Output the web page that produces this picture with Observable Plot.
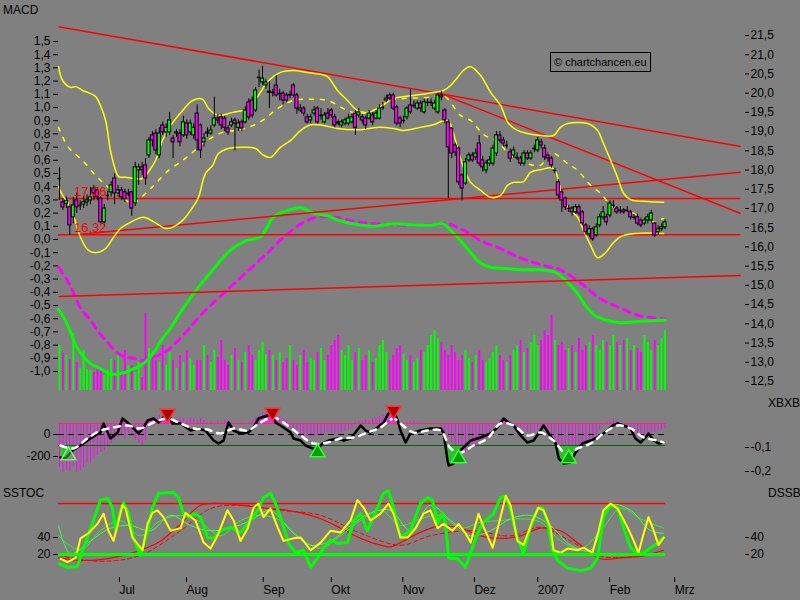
<!DOCTYPE html>
<html><head><meta charset="utf-8">
<script src="https://cdn.jsdelivr.net/npm/d3@7"></script>
<script src="https://cdn.jsdelivr.net/npm/@observablehq/plot@0.6"></script>
<style>
html,body{margin:0;padding:0;background:#808080;}
#chart{position:relative;width:800px;height:600px;background:#808080;overflow:hidden;font-family:Arial,"Liberation Sans",sans-serif;}
#chart > svg{position:absolute;left:0;top:0;}
.ttl{position:absolute;font-size:12px;color:#000;line-height:12px;}
.wm{position:absolute;left:550px;top:52px;height:18px;padding:0 3px;border:1px solid #000;font-size:11px;line-height:18px;color:#000;white-space:nowrap;}
</style></head><body><div id="chart"></div>
<script>
// ---------- candles (bar index 0..176) ----------
const candleOpen = [17.78,17.16,17.12,17.03,16.77,17.21,17.08,17.1,17.16,17.21,
17.52,17.47,17.26,16.64,17.34,17.42,17.78,17.39,17.47,17.42,
17.39,17.42,17.13,17.99,18.07,18.12,18.38,18.9,18.95,18.38,
19.16,18.98,18.98,18.82,18.95,18.95,18.9,19.21,18.98,18.9,
19.47,19.16,18.72,18.98,18.95,19.16,19.34,19.37,19.34,19.08,
19.16,19.29,19.1,19.24,19.24,19.76,19.81,19.55,20.41,20.28,
20.2,20.04,20.02,20.2,19.99,19.99,19.94,19.96,20.2,19.94,
19.55,19.6,19.37,19.29,19.47,19.6,19.42,19.24,19.47,19.55,
19.37,19.24,19.16,19.21,19.21,19.24,19.47,19.42,19.37,19.34,
19.34,19.42,19.34,19.34,19.63,19.81,19.94,19.94,19.63,19.34,
19.29,19.37,19.68,19.68,19.6,19.73,19.5,19.76,19.76,19.6,
19.5,19.94,19.55,19.24,19.08,18.64,18.56,17.86,17.65,18.25,
18.38,18.33,18.69,18.25,17.99,18.17,18.17,18.43,18.9,18.77,
18.64,18.46,18.38,18.33,18.3,18.17,18.43,18.3,18.56,18.51,
18.72,18.56,18.38,18.3,17.99,17.68,17.42,17.26,17.0,17.0,
16.9,17.03,16.9,16.56,16.33,16.46,16.3,16.56,16.77,16.77,
16.82,17.08,17.0,16.95,16.95,16.95,16.9,16.77,16.77,16.69,
16.61,16.69,16.69,16.61,16.38,16.46,16.51];
const candleClose = [17.78,17.03,17.2,16.56,17.08,17.03,17.08,17.16,17.21,17.29,
17.39,17.29,16.64,17.0,17.34,17.6,17.39,17.47,17.29,17.24,
17.39,17.0,18.07,18.07,18.0,17.78,18.77,18.77,18.51,18.95,
18.98,19.1,19.29,18.72,18.98,18.72,19.24,18.9,19.21,19.1,
18.77,18.51,18.82,18.95,19.03,19.34,19.29,19.16,19.1,18.98,
19.24,19.21,19.21,19.08,19.55,19.37,19.42,20.07,20.41,20.38,
20.28,20.01,20.02,19.94,19.99,19.81,19.81,19.96,19.94,19.6,
19.6,19.47,19.24,19.37,19.55,19.24,19.42,19.42,19.34,19.42,
19.16,19.21,19.24,19.29,19.34,19.37,19.1,19.5,19.29,19.16,
19.47,19.24,19.47,19.6,19.63,19.86,19.86,19.6,19.21,19.21,
19.29,19.6,19.5,19.68,19.73,19.6,19.76,19.76,19.76,19.73,
19.94,19.89,19.29,18.59,18.43,18.46,17.68,17.52,18.2,18.38,
18.25,18.43,18.17,18.07,18.17,18.25,18.56,18.9,18.77,18.69,
18.64,18.3,18.51,18.33,18.17,18.43,18.3,18.43,18.56,18.77,
18.64,18.33,18.3,18.12,17.99,17.34,17.21,17.03,17.0,16.9,
17.03,16.87,16.61,16.38,16.46,16.2,16.51,16.77,16.9,16.64,
17.13,17.08,16.9,16.95,16.9,16.95,16.77,16.77,16.61,16.56,
16.69,16.77,16.87,16.3,16.46,16.51,16.64];
const candleHigh = [18.07,17.25,17.3,17.1,17.29,17.4,17.2,17.3,17.35,17.55,
17.6,17.55,17.3,17.1,17.45,17.7,17.9,17.6,17.55,17.5,
17.5,17.45,18.2,18.15,18.2,18.3,18.85,19.0,19.05,19.1,
19.25,19.2,19.5,18.9,19.05,19.05,19.4,19.3,19.3,19.2,
19.7,19.2,18.95,19.1,19.15,19.9,19.45,19.45,19.4,19.15,
19.35,19.35,19.3,19.3,19.65,19.85,19.9,20.15,20.6,20.7,
20.35,20.3,20.1,20.45,20.1,20.05,20.0,20.05,20.25,20.0,
19.7,19.65,19.45,19.45,19.65,19.65,19.6,19.5,19.6,19.6,
19.45,19.3,19.3,19.35,19.45,19.45,19.55,19.6,19.45,19.4,
19.55,19.5,19.55,19.7,19.75,19.95,20.0,20.0,19.68,19.4,
19.4,19.65,20.1,19.8,19.8,19.8,19.85,19.85,19.85,19.8,
20.0,20.05,19.6,19.3,19.1,18.7,18.6,17.9,18.3,18.45,
18.45,18.55,18.9,18.35,18.25,18.35,18.65,19.0,19.0,18.85,
18.75,18.55,18.6,18.45,18.35,18.5,18.5,18.5,18.65,18.85,
18.8,18.65,18.45,18.35,18.05,17.75,17.5,17.3,17.08,17.05,
17.1,17.1,16.95,16.6,16.55,16.5,16.6,16.85,17.05,16.85,
17.2,17.2,17.05,17.05,17.0,17.05,16.95,16.85,16.85,16.75,
16.75,16.85,16.95,16.65,16.55,16.6,16.7];
const candleLow = [17.21,16.95,17.0,16.3,16.6,16.87,16.95,17.0,17.05,17.1,
17.2,17.2,16.6,16.55,17.2,17.3,17.1,17.3,17.2,17.15,
17.3,16.8,17.05,17.6,17.85,17.6,18.3,18.6,18.4,18.3,
18.9,18.85,18.9,18.3,18.85,18.6,18.85,18.8,18.9,18.8,
18.5,18.3,18.6,18.85,18.9,19.1,19.2,19.05,19.0,18.9,
19.1,18.5,19.0,19.0,19.2,19.3,19.35,19.5,20.15,20.2,
20.1,19.6,19.9,19.9,19.8,19.7,19.75,19.85,19.9,19.45,
19.5,19.4,19.2,19.2,19.4,19.2,19.3,19.2,19.3,19.35,
19.1,19.15,19.1,19.15,19.15,19.2,18.9,19.35,19.2,19.05,
19.3,19.15,19.3,19.3,19.55,19.75,19.8,19.55,19.15,19.1,
19.2,19.3,19.45,19.6,19.55,19.5,19.45,19.65,19.65,19.55,
19.45,19.8,19.2,17.26,18.3,18.35,17.6,17.2,17.6,18.2,
18.2,18.25,18.1,17.95,17.9,18.1,18.1,18.35,18.7,18.6,
18.55,18.2,18.3,18.25,18.1,18.1,18.25,18.25,18.45,18.45,
18.55,18.25,18.2,18.05,17.9,17.25,16.9,16.95,16.9,16.8,
16.85,16.8,16.55,16.3,16.25,16.15,16.25,16.5,16.7,16.55,
16.75,17.0,16.85,16.85,16.85,16.9,16.7,16.7,16.55,16.5,
16.55,16.6,16.6,16.25,16.3,16.4,16.45];
const volume = [45,37,35,31,57,28,22,40,21,20,
18,22,20,15,20,31,30,35,17,40,
25,25,18,28,13,77,42,35,30,28,
45,25,38,30,22,35,28,40,32,25,
30,30,45,35,28,40,33,50,30,25,
35,42,30,28,38,45,35,30,40,48,
36,40,35,30,38,28,32,45,30,25,
35,40,28,32,30,38,42,30,35,45,
50,55,40,35,45,30,38,42,30,35,
40,28,32,45,50,38,30,35,42,45,
36,30,35,28,32,40,38,45,55,60,
52,48,40,35,45,38,30,35,40,32,
28,35,40,30,28,32,38,45,35,30,
28,35,40,45,50,38,42,48,55,45,
50,60,55,75,50,45,48,40,42,45,
38,52,40,45,48,55,45,40,50,48,
45,55,48,45,50,52,40,45,42,38,
55,48,40,50,45,52,60];

// ---------- Bollinger bands: [bar index, price] ----------
const bbUpper = [[-0.3,20.69],[0.9,20.33],[3.2,20.15],[4.7,20.17],[6.7,20.07],[9,19.99],[10.5,19.91],[11.9,19.68],[13.4,19.29],[14.8,18.51],[16.3,17.99],[17.2,17.83],[19.2,17.81],[22.1,17.78],[24.1,17.78],[26.5,18.04],[27.9,18.25],[29.9,18.77],[32.3,19.16],[35.8,19.55],[38.7,19.81],[41.6,19.84],[43.3,19.6],[46.2,19.42],[50.3,19.5],[54.9,19.6],[57.8,19.94],[60.8,20.33],[64.2,20.54],[68,20.59],[72.1,20.54],[75.9,20.49],[77.9,20.43],[80.8,20.07],[83.7,19.81],[86.6,19.55],[89.5,19.5],[92.4,19.6],[97.1,19.86],[102.9,19.94],[108.7,20.02],[111.6,20.07],[113.7,20.2],[115.7,20.41],[117.4,20.59],[119.5,20.69],[122.4,20.46],[125.3,20.02],[128.2,19.68],[130.5,19.21],[133.1,19.03],[136,18.95],[139.8,18.9],[143.6,18.9],[145.6,19.11],[147.7,19.21],[153.5,19.21],[156.4,19.03],[158.1,18.69],[160.2,18.25],[162.2,17.81],[164,17.39],[166,17.23],[170.9,17.18],[175.6,17.16]];
const bbLower = [[-0.3,17.57],[0.9,17.34],[3.2,17.03],[6.1,16.25],[8.4,15.91],[10.5,15.85],[13.4,15.96],[15.7,16.25],[17.7,16.48],[20.6,16.64],[24.4,16.77],[27.3,16.66],[30.8,16.48],[32.8,16.51],[35.8,16.69],[38.7,17.03],[40.4,17.29],[42.4,17.91],[44.5,18.12],[46.2,18.43],[49.1,18.56],[53.2,18.59],[57,18.56],[59,18.4],[61.3,18.33],[64.2,18.59],[67.2,18.77],[70.1,19.03],[73,19.18],[76.7,19.16],[80.8,19.08],[87.5,19.05],[92.4,19.11],[97.1,19.08],[100,19.03],[104.9,19.11],[108.7,19.18],[112.8,19.29],[115.1,18.77],[117.2,18.12],[119.5,17.68],[122.4,17.47],[125.3,17.29],[128.2,17.34],[130.2,17.6],[132,17.68],[134.9,17.7],[136.9,17.94],[139.8,18.01],[143.6,18.04],[145.6,17.52],[147.7,17.03],[150.6,16.77],[152.3,16.43],[154.4,16.04],[156.4,15.72],[158.7,15.85],[160.8,16.09],[163.1,16.27],[167.4,16.35],[175.6,16.35]];
const bbMiddle = [[-0.3,19.11],[2.6,18.59],[6.7,18.25],[10.5,17.86],[14.2,17.55],[18.3,17.29],[21.2,17.13],[25,17.39],[27.9,17.65],[31.7,17.99],[35.8,18.25],[38.7,18.46],[41.6,18.69],[47.4,18.98],[51.2,19.03],[54.9,19.11],[59,19.29],[63.4,19.6],[68,19.81],[73,19.84],[77.9,19.81],[83.7,19.55],[87.5,19.47],[92.4,19.6],[96.2,19.81],[100,19.86],[107.8,19.89],[111.6,19.94],[116.6,19.42],[119.5,19.29],[123.3,18.92],[127.3,18.74],[131.1,18.38],[136,18.17],[139.8,18.12],[142.7,18.46],[147.7,18.17],[150.6,17.99],[154.4,17.6],[157.3,17.39],[161,17.03],[166.9,16.87],[170.9,16.64],[175.6,16.74]];

// ---------- trend lines and levels ----------
const trendStartIdx = [-0.3, 109.9, 4.7, -0.3];
const trendStartPrice = [21.73, 20.02, 16.32, 14.71];
const trendEndIdx = [198, 198, 198, 198];
const trendEndPrice = [18.61, 16.87, 17.94, 15.26];
const levelPrices = [17.26, 16.32];
const levelLabels = ["17,26", "16,32"];

// ---------- MACD: [bar index, value] ----------
const macdLine = [[-0.3,-0.53],[1.2,-0.59],[3.2,-0.7],[4.7,-0.8],[6.7,-0.88],[9,-0.94],[11.9,-0.98],[14.8,-1.02],[16.3,-1.02],[18.6,-1.01],[21.5,-0.98],[24.4,-0.94],[27.3,-0.86],[29.4,-0.77],[32.3,-0.67],[35.2,-0.55],[38.1,-0.44],[41,-0.34],[43.9,-0.25],[46.8,-0.16],[49.7,-0.08],[54.1,-0.01],[58.4,0.02],[62.2,0.17],[66.3,0.22],[70.1,0.24],[73.8,0.2],[77.9,0.18],[81.7,0.14],[87.5,0.11],[91.3,0.1],[97.1,0.12],[102.9,0.11],[108.7,0.11],[111.3,0.12],[113.7,0.07],[116.6,-0.01],[119.5,-0.1],[122.4,-0.18],[125.3,-0.21],[129.7,-0.22],[134,-0.23],[139.8,-0.23],[144.2,-0.25],[147.1,-0.31],[150,-0.39],[152.9,-0.5],[155.8,-0.58],[158.7,-0.61],[163.1,-0.63],[168.9,-0.62],[176.2,-0.61]];
const macdSignal = [[-0.3,-0.21],[2.3,-0.31],[3.8,-0.39],[6.1,-0.52],[9,-0.61],[11,-0.69],[14,-0.78],[16.9,-0.86],[19.2,-0.89],[21.5,-0.9],[23.5,-0.92],[25.6,-0.9],[28.5,-0.88],[31.4,-0.84],[34.3,-0.77],[37.2,-0.69],[40.1,-0.6],[43.9,-0.5],[49.7,-0.36],[55.5,-0.22],[61.3,-0.08],[65.7,0.03],[70.9,0.13],[75,0.17],[79.7,0.17],[87.5,0.13],[99.1,0.11],[107,0.11],[112.8,0.12],[116.6,0.08],[118.9,0.05],[122.4,-0.01],[128.2,-0.07],[134,-0.14],[139.8,-0.19],[145.6,-0.23],[151.5,-0.33],[157.3,-0.45],[163.1,-0.52],[168.9,-0.58],[176.2,-0.6]];
const macdTicks = [1.5,1.4,1.3,1.2,1.1,1.0,0.9,0.8,0.7,0.6,0.5,0.4,0.3,0.2,0.1,0.0,-0.1,-0.2,-0.3,-0.4,-0.5,-0.6,-0.7,-0.8,-0.9,-1.0];
const priceTicks = [21.5,21.0,20.5,20.0,19.5,19.0,18.5,18.0,17.5,17.0,16.5,16.0,15.5,15.0,14.5,14.0,13.5,13.0,12.5];

// ---------- XBXB panel ----------
const xbHist = [-300,-345,-327,-336,-291,-345,-327,-300,-255,
-264,-218,-191,-164,-145,-118,-82,-55,
-27,0,-36,9,-18,-55,-82,-100,-55,
127,145,155,173,191,173,155,145,
140,155,145,130,150,140,120,145,130,110,115,105,120,110,130,
120,110,95,90,105,100,110,120,
150,165,185,190,200,195,175,160,145,125,
60,40,20,0,-10,-20,-30,-20,-10,0,10,20,10,0,10,20,30,40,50,
110,115,120,130,125,140,150,160,175,190,200,190,150,
110,105,110,115,120,110,105,100,100,100,100,100,
50,20,-30,-80,-120,-150,-170,-160,-140,-120,-100,-80,-60,-40,-20,
60,100,130,150,140,110,90,70,
60,40,20,10,20,40,60,80,
30,-20,-60,-100,-130,-150,-160,-150,-140,-120,-100,-80,-60,-40,-20,
40,80,110,120,130,120,
90,70,50,30,20,10,0,0,10,20,20,30,40,50];
const xbBlack = [[0.3,-209],[1.7,-218],[3.8,-145],[6.1,-100],[9,-36],[11.9,18],[12.8,100],[14.8,-36],[16.9,18],[18.3,145],[20.1,100],[21.5,55],[23,9],[24.4,64],[25.6,127],[27.3,145],[28.8,109],[30.2,155],[31.7,191],[32.8,100],[35.2,100],[38.1,36],[40.1,55],[42.4,36],[44.8,-55],[46.2,-82],[47.7,-55],[49.1,109],[50.6,36],[52.6,9],[54.9,18],[56.4,64],[57.8,145],[60.5,173],[61.9,200],[62.8,109],[65.1,64],[67.2,18],[68,-36],[70.1,-55],[71.5,-100],[73.5,-127],[75,-127],[76.5,-82],[78.2,-55],[80.8,-36],[82.6,-55],[84.6,-36],[86,18],[87.5,82],[89,36],[90.4,18],[92.4,64],[94.2,109],[95.6,191],[97.1,218],[98.3,127],[99.1,36],[100.6,-73],[102,9],[104.9,36],[107.8,55],[110.8,55],[111.6,18],[112.8,-236],[113.1,-282],[114.5,-264],[115.7,-173],[117.4,-118],[119.5,-55],[122.4,-27],[125.3,9],[127.3,64],[129.1,145],[130.5,109],[132,82],[134,-9],[136,-73],[137.8,-55],[139.8,36],[140.7,82],[142.2,9],[144.2,-82],[145.1,-218],[146.5,-264],[148.5,-255],[150,-164],[152,-82],[154.4,-55],[157.3,-9],[159.3,36],[160.8,82],[162.2,100],[163.9,82],[166,55],[167.4,-36],[168.9,-73],[170.3,-27],[171.2,9],[172.7,-55],[174.1,-82],[175.6,-73]];
const xbWhite = [[0.3,-100],[4.1,-127],[8.1,-36],[11.9,36],[15.7,64],[19.8,82],[23.5,55],[27.3,109],[31.4,145],[35.2,100],[39,55],[43,45],[46.8,9],[50.6,55],[54.7,36],[58.4,109],[62.2,155],[66.3,82],[70.1,-9],[73.8,-82],[77.9,-73],[81.7,-36],[85.5,-27],[89.5,18],[93.3,64],[97.1,145],[99.1,100],[102.9,18],[107,36],[110.8,36],[113.7,-127],[116.6,-164],[120.3,-100],[124.4,-36],[128.2,100],[132,82],[136,-9],[139.8,18],[143.6,-55],[147.7,-191],[150.6,-127],[154.4,-82],[158.1,9],[162.2,82],[166,55],[169.8,-27],[173.8,-55],[175.6,-73]];
const xbUpperLevel = 100, xbLowerLevel = -100;
const sellSignals = [[31.4,191],[61.9,200],[97.1,218]];
const buySignals = [[75,-164],[116,-218],[148,-218]];
const weakBuySignals = [[2.6,-191]];
const xbLeftTicks = [0, -200];
const xbRightTicks = [-0.1, -0.2];

// ---------- SSTOC / DSSB panel: [bar index, value] ----------
const stocThick = [[0,9],[2.3,5],[5.2,6],[7,28],[9.9,60],[11.9,84],[14,86],[15.4,75],[16.3,48],[17.7,72],[18.6,81],[20.1,68],[21.5,40],[23.5,19],[25.6,48],[27,75],[28.8,92],[33.1,93],[34.6,87],[36,68],[37.5,64],[39,68],[41,64],[43,40],[44.8,39],[46.8,48],[49.7,52],[52.6,46],[55.5,60],[57.6,72],[59.3,87],[61.3,92],[62.8,80],[64.8,57],[66.6,33],[68.6,22],[70.9,25],[73,5],[75,16],[76.7,27],[78.8,37],[80.8,33],[83.7,34],[85.5,60],[87.5,68],[89.5,48],[92.4,75],[94.2,92],[95.6,95],[97.1,75],[99.1,40],[102,48],[104.9,80],[107,87],[108.4,84],[109.9,57],[111.3,69],[112.2,57],[113.1,16],[115.7,15],[118,5],[119.5,22],[121.5,45],[123,57],[124.4,62],[126.2,68],[128.2,87],[129.7,89],[131.1,72],[133.1,39],[134.9,22],[136.9,52],[139,74],[140.4,75],[141.9,57],[143.3,25],[144.8,13],[147.7,4],[151.5,1],[154.4,4],[156.4,16],[158.1,64],[160.2,78],[162.2,75],[163.9,52],[166,28],[168,21],[169.8,22],[171.8,28],[173.8,33],[175.6,40]];
const stocYellow = [[0.3,15],[2.3,11],[4.7,16],[6.1,39],[8.4,45],[11,56],[12.8,68],[14.2,48],[15.7,36],[18.3,78],[19.2,74],[21.2,40],[24.1,25],[25.6,56],[27,69],[28.5,72],[30.2,64],[32.3,48],[35.2,51],[36.6,69],[39.5,60],[41.9,34],[43.9,27],[45.9,42],[48.8,72],[50.6,60],[52.6,36],[54.7,51],[56.4,75],[57.8,80],[59.3,64],[61.3,74],[63.4,52],[65.1,36],[68,39],[70.1,40],[73,25],[75.9,34],[78.8,48],[81.7,46],[84.6,60],[86.6,84],[88.4,75],[90.4,60],[93.3,68],[95.6,80],[97.1,68],[99.1,40],[101.2,40],[103.5,51],[105.8,68],[107.8,72],[109.9,51],[111.6,56],[114.2,48],[116,56],[118,45],[119.5,34],[121.8,68],[123.3,52],[125.9,28],[128.2,64],[129.7,89],[131.1,78],[133.1,36],[134.9,31],[137.5,60],[139.2,75],[140.7,72],[142.7,52],[143.6,25],[145.6,22],[147.7,27],[150.6,25],[152.3,28],[154.9,22],[156.7,48],[158.1,72],[160.2,80],[162.2,74],[165.1,52],[166.9,36],[168.3,22],[169.8,45],[171.2,64],[172.7,48],[174.1,31],[175.6,40]];
const stocThinA = [[-0.3,54],[3.2,21],[9,36],[14.8,51],[20.6,54],[26.5,48],[32.3,66],[38.1,54],[43.9,48],[49.7,51],[55.5,60],[61.3,72],[67.2,48],[73,31],[78.8,36],[84.6,54],[90.4,69],[96.2,72],[102,48],[107.8,78],[113.7,60],[119.5,42],[125.3,48],[131.1,62],[136.9,66],[142.7,54],[148.5,31],[154.4,25],[160.2,78],[166,72],[171.8,48],[175.6,45]];
const stocThinB = [[-0.3,42],[6.1,25],[11.9,48],[17.7,60],[23.5,42],[29.4,60],[35.2,66],[41,58],[46.8,42],[52.6,60],[58.4,66],[64.2,60],[70.1,39],[75.9,27],[81.7,42],[87.5,60],[93.3,72],[99.1,54],[104.9,62],[110.8,66],[116.6,51],[122.4,58],[128.2,60],[134,62],[139.8,58],[145.6,36],[151.5,27],[157.3,48],[163.1,74],[168.9,62],[175.6,51]];
const stocRed = [[-0.3,16],[6.1,13],[11.9,14],[17.7,18],[23.5,25],[29.4,36],[35.2,56],[41,78],[46.8,80],[52.6,78],[58.4,75],[64.2,73],[70.1,69],[75.9,62],[81.7,51],[87.5,39],[93.3,31],[96.2,29],[99.1,34],[104.9,46],[110.8,54],[116.6,51],[122.4,42],[128.2,39],[134,42],[139.8,51],[145.6,48],[151.5,31],[157.3,15],[163.1,16],[168.9,18],[175.6,25]];
const stocRedDash = [[-0.3,19],[11.9,12],[23.5,19],[35.2,48],[43.9,74],[52.6,78],[64.2,72],[75.9,66],[87.5,45],[99.1,31],[107.8,42],[119.5,48],[131.1,42],[139.8,52],[148.5,36],[157.3,18],[168.9,18],[175.6,21]];
const stocHigh = 80, stocLow = 20;
const stocTicks = [40, 20];

// ---------- time axis ----------
const monthPos = [17.4, 36.9, 59.2, 79.0, 99.8, 120.6, 139.0, 159.9, 178.8];
const monthLabels = ["Jul", "Aug", "Sep", "Okt", "Nov", "Dez", "2007", "Feb", "Mrz"];

// ---------- build ----------
const candles = candleOpen.map((o, i) => ({i, o, c: candleClose[i], h: candleHigh[i], l: candleLow[i], v: volume[i]}));
const trends = trendStartIdx.map((x1, k) => ({x1, y1: trendStartPrice[k], x2: trendEndIdx[k], y2: trendEndPrice[k]}));
const hist = xbHist.map((v, i) => ({i, v}));
const xStart = -0.3, xEndData = 176.2, xEndTop = 198;
const xDomain = [-0.3, 199.1];
const fmt1 = d => d.toFixed(1).replace(".", ",");
const P = d => d[0], V = d => d[1];
const GREEN = "#00ff00", MAGENTA = "#ff00ff", RED = "#ff0000", YELLOW = "#ffff00";

const chart = document.getElementById("chart");
function layer(opts) {
  const svg = Plot.plot({
    width: 800, height: 600, marginLeft: 58, marginRight: 56,
    x: {domain: xDomain, axis: null},
    color: {type: "identity"},
    style: {background: "transparent", overflow: "visible", fontFamily: "Arial, 'Liberation Sans', sans-serif", fontSize: "12px", color: "#000"},
    ...opts
  });
  chart.append(svg);
}

// volume
layer({marginTop: 290, marginBottom: 210, y: {domain: [0, 100], axis: null},
  marks: [Plot.ruleX(candles, {x: "i", y1: 0, y2: "v", stroke: d => d.c >= d.o ? GREEN : MAGENTA, strokeWidth: 2})]});

// MACD (left axis)
layer({marginTop: 41, marginBottom: 229, y: {domain: [-1.0, 1.5]},
  marks: [
    Plot.axisY({anchor: "left", ticks: macdTicks, tickFormat: fmt1, tickSize: 5, tickPadding: 3, label: null}),
    Plot.line(macdSignal, {x: P, y: V, stroke: MAGENTA, strokeWidth: 3, strokeDasharray: "7,6", curve: "catmull-rom"}),
    Plot.line(macdLine, {x: P, y: V, stroke: GREEN, strokeWidth: 3, curve: "catmull-rom"})
  ]});

// price (right axis)
layer({marginTop: 35, marginBottom: 219, y: {domain: [12.5, 21.5]},
  marks: [
    Plot.axisY({anchor: "right", ticks: priceTicks, tickFormat: fmt1, tickSize: 4, tickPadding: 2, label: null}),
    Plot.link(trends, {x1: "x1", y1: "y1", x2: "x2", y2: "y2", stroke: RED, strokeWidth: 1.5}),
    Plot.ruleY(levelPrices, {y: d => d, x1: xStart, x2: xEndTop, stroke: RED, strokeWidth: 1.5}),
    Plot.line(bbMiddle, {x: P, y: V, stroke: YELLOW, strokeWidth: 1.5, strokeDasharray: "4,7", curve: "catmull-rom"}),
    Plot.line(bbUpper, {x: P, y: V, stroke: YELLOW, strokeWidth: 1.5, curve: "catmull-rom"}),
    Plot.line(bbLower, {x: P, y: V, stroke: YELLOW, strokeWidth: 1.5, curve: "catmull-rom"}),
    Plot.ruleX(candles, {x: "i", y1: "l", y2: "h", stroke: "#000", strokeWidth: 1}),
    Plot.rect(candles.filter(d => d.o !== d.c), {x1: d => d.i - 0.45, x2: d => d.i + 0.45, y1: "o", y2: "c",
      fill: d => d.c > d.o ? GREEN : MAGENTA, stroke: "#000", strokeWidth: 1}),
    Plot.ruleY(candles.filter(d => d.o === d.c), {y: "c", x1: d => d.i - 0.5, x2: d => d.i + 0.5, stroke: "#000", strokeWidth: 1.5}),
    Plot.text(levelPrices, {x: 4.2, y: d => d, text: (d, i) => levelLabels[i], textAnchor: "start", dy: -7, fill: RED, fontSize: 13})
  ]});

// XBXB right axis
layer({marginTop: 447, marginBottom: 129, y: {domain: [-0.2, -0.1]},
  marks: [Plot.axisY({anchor: "right", ticks: xbRightTicks, tickFormat: fmt1, tickSize: 4, tickPadding: 2, label: null})]});

// XBXB main
layer({marginTop: 434, marginBottom: 144, y: {domain: [-200, 0]},
  marks: [
    Plot.axisY({anchor: "left", ticks: xbLeftTicks, tickFormat: d => String(d), tickSize: 5, tickPadding: 3, label: null}),
    Plot.ruleX(hist, {x: "i", y1: xbUpperLevel, y2: "v", stroke: MAGENTA, strokeWidth: 1}),
    Plot.areaY(xbBlack, {x: P, y1: xbUpperLevel, y2: d => Math.max(d[1], xbUpperLevel), fill: "#cc44cc"}),
    Plot.areaY(xbBlack, {x: P, y1: xbLowerLevel, y2: d => Math.min(d[1], xbLowerLevel), fill: "#33bb33"}),
    Plot.ruleY([xbUpperLevel], {x1: xStart, x2: xEndData, stroke: "#ff2288", strokeWidth: 1}),
    Plot.ruleY([0], {x1: xStart, x2: xEndData, stroke: "#000", strokeWidth: 1, strokeDasharray: "6,4"}),
    Plot.ruleY([xbLowerLevel], {x1: xStart, x2: xEndData, stroke: "#006600", strokeWidth: 1}),
    Plot.line(xbBlack, {x: P, y: V, stroke: "#000", strokeWidth: 2.5}),
    Plot.line(xbWhite, {x: P, y: V, stroke: "#ffffff", strokeWidth: 2.5, strokeDasharray: "6,6", curve: "catmull-rom"}),
    Plot.dot(weakBuySignals, {x: P, y: V, symbol: "triangle", r: 5.5, fill: "#44cc44", stroke: "#77ee77", fillOpacity: 0.5}),
    Plot.dot(buySignals, {x: P, y: V, symbol: "triangle", r: 5.5, fill: "#00a000", stroke: "#33ff33", strokeWidth: 1.5}),
    Plot.dot(sellSignals, {x: P, y: V, symbol: "triangle", r: 5.5, rotate: 180, fill: "#b00000", stroke: "#ff3030", strokeWidth: 1.5})
  ]});

// SSTOC / DSSB
layer({marginTop: 537, marginBottom: 46, y: {domain: [20, 40]},
  marks: [
    Plot.axisY({anchor: "left", ticks: stocTicks, tickFormat: d => String(d), tickSize: 5, tickPadding: 3, label: null}),
    Plot.axisY({anchor: "right", ticks: stocTicks, tickFormat: d => String(d), tickSize: 4, tickPadding: 2, label: null}),
    Plot.ruleY([stocHigh], {x1: xStart, x2: xEndData, stroke: RED, strokeWidth: 1.5}),
    Plot.line(stocRedDash, {x: P, y: V, stroke: RED, strokeWidth: 1, strokeDasharray: "4,3", curve: "catmull-rom"}),
    Plot.line(stocRed, {x: P, y: V, stroke: RED, strokeWidth: 1.2, curve: "catmull-rom"}),
    Plot.line(stocThinB, {x: P, y: V, stroke: "#33ee33", strokeWidth: 1, curve: "catmull-rom"}),
    Plot.line(stocThinA, {x: P, y: V, stroke: "#44ff44", strokeWidth: 1, curve: "catmull-rom"}),
    Plot.line(stocThick, {x: P, y: V, stroke: GREEN, strokeWidth: 3}),
    Plot.line(stocYellow, {x: P, y: V, stroke: YELLOW, strokeWidth: 2}),
    Plot.ruleY([stocLow], {x1: xStart, x2: xEndData, stroke: GREEN, strokeWidth: 3})
  ]});

// time axis
const monthMap = new Map(monthPos.map((p, i) => [p, monthLabels[i]]));
layer({marginTop: 500, marginBottom: 23, x: {domain: xDomain},
  marks: [Plot.axisX({anchor: "bottom", ticks: monthPos, tickFormat: d => monthMap.get(d), textAnchor: "start", tickSize: 5, tickPadding: 3, label: null})]});

// titles / watermark
function addDiv(cls, text, left, top) {
  const d = document.createElement("div");
  d.className = cls; d.textContent = text;
  if (left != null) { d.style.left = left + "px"; d.style.top = top + "px"; }
  chart.append(d);
}
addDiv("ttl", "MACD", 3, 4);
addDiv("ttl", "XBXB", 768, 397);
addDiv("ttl", "SSTOC", 3, 487);
addDiv("ttl", "DSSB", 768, 487);
addDiv("wm", "\u00A9 chartchancen.eu");
</script>
</body></html>
